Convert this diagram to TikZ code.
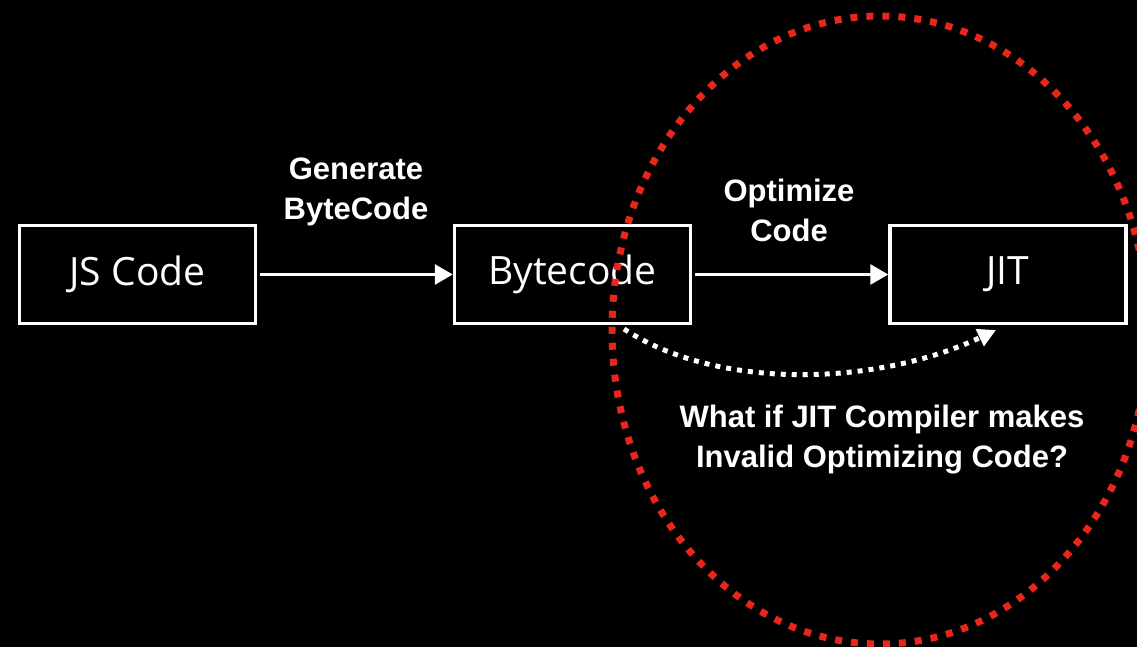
\documentclass[tikz,border=0pt]{standalone}
\usepackage{fontspec}
\setmainfont{Liberation Sans}
\newfontfamily\boxfont{Open Sans}
\usetikzlibrary{arrows.meta}
\definecolor{ringred}{HTML}{E8261A}
\begin{document}
\begin{tikzpicture}[x=1pt,y=-1pt,
  stage/.style={draw=white, line width=3.5pt, minimum width=236pt, minimum height=98pt,
    inner sep=0pt, text=white, font=\boxfont\fontsize{39}{44}\selectfont},
  flow/.style={draw=white, line width=3pt, -{Triangle[length=18pt,width=20pt]}},
  label/.style={text=white, font=\bfseries\fontsize{31}{40}\selectfont, align=center}]
  % background
  \fill[black] (0,0) rectangle (1137,647);
  \useasboundingbox (0,0) rectangle (1137,647);

  % stages
  \node[stage] (js)   at (137.5,274.5) {JS Code};
  \node[stage] (bc)   at (572.5,274.5) {Bytecode};
  \node[stage] (jit)  at (1008,274.5) {JIT};

  % main flow
  \draw[flow] (js.east) ++(3,0) coordinate (a0) -- (bc.west);
  \draw[flow] (bc.east) ++(3,0) coordinate (b0) -- (jit.west);
  \node[label] (gen) at (356,192) {Generate\\ByteCode};
  \node[label] (opt) at (789,210) {Optimize\\Code};

  % dotted feedback curve
  \coordinate (c0) at (624,329);
  \coordinate (c1) at (996,330);
  \draw[white, line width=5pt, dash pattern=on 5pt off 6pt,
        -{Triangle[length=18pt,width=18pt]}]
    (c0) .. controls (720,392) and (880,385) .. (c1);

  % question
  \node[label] (q) at (882,440) {What if JIT Compiler makes\\Invalid Optimizing Code?};

  % red dotted ring
  \draw[ringred, line width=7pt, dash pattern=on 7pt off 9pt]
    (880,330) ellipse [x radius=268, y radius=314];
\end{tikzpicture}
\end{document}
